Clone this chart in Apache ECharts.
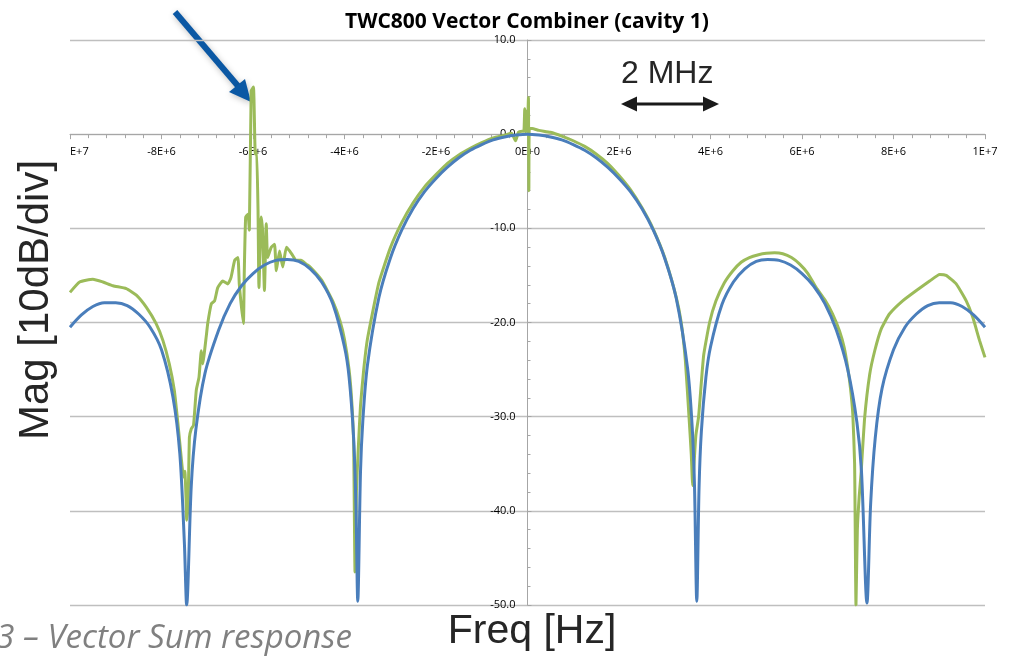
<!DOCTYPE html>
<html>
<head>
<meta charset="utf-8">
<title>TWC800 Vector Combiner (cavity 1)</title>
<script src="https://cdn.jsdelivr.net/npm/echarts@6.0.0/dist/echarts.min.js"></script>
<style>
  html, body { margin: 0; padding: 0; background: #fff; }
  #main { width: 1013px; height: 658px; }
</style>
</head>
<body>
<div id="main"></div>
<script>
// frequency in MHz (axis labels show it as E-notation Hz), magnitude in dB
var xTickLabels = ['E+7', '-8E+6', '-6E+6', '-4E+6', '-2E+6', '0E+0', '2E+6', '4E+6', '6E+6', '8E+6', '1E+7'];

// blue trace (smooth response)
var blueFreq = [
  -10,   -9.75, -9.5,  -9.25, -9,    -8.75, -8.5,  -8.25, -8,    -7.75,
  -7.6,  -7.5,  -7.45, -7.35, -7.25, -7.05, -6.75, -6.5,  -6.25, -6,
  -5.75, -5.5,  -5.25, -5,    -4.75, -4.5,  -4.25, -4,    -3.9,  -3.8,
  -3.75, -3.71, -3.65, -3.6,  -3.5,  -3.25, -3,    -2.75, -2.5,  -2.25,
  -2,    -1.75, -1.5,  -1.25, -1,    -0.75, -0.5,  -0.25, 0,     0.25,
  0.5,   0.75,  1,     1.25,  1.5,   1.75,  2,     2.25,  2.5,   2.75,
  3,     3.25,  3.5,   3.6,   3.65,  3.7,   3.75,  3.8,   3.9,   4,
  4.25,  4.5,   4.75,  5,     5.25,  5.5,   5.75,  6,     6.25,  6.5,
  6.75,  7,     7.2,   7.3,   7.42,  7.5,   7.6,   7.75,  8,     8.25,
  8.5,   8.75,  9,     9.25,  9.5,   9.75,  10];
var blueMag = [
  -20.5, -19.2, -18.3, -17.9, -17.9, -18.2, -19.1, -20.5, -22.9, -27.9,
  -33.9, -43.4, -50.0, -37.4, -31.4, -25.4, -20.8, -18.0, -16.1, -14.8,
  -13.9, -13.4, -13.3, -13.5, -14.3, -15.7, -18.1, -22.6, -25.8, -32.3,
  -39.4, -49.6, -35.8, -30.5, -24.6, -17.4, -13.2, -10.2, -7.9,  -6.1,
  -4.7,  -3.5,  -2.5,  -1.7,  -1.1,  -0.6,  -0.3,  -0.1,  0,     -0.1,
  -0.3,  -0.6,  -1.1,  -1.7,  -2.5,  -3.5,  -4.7,  -6.1,  -7.9,  -10.2,
  -13.2, -17.4, -24.9, -31.1, -37.3, -49.6, -37.5, -31.6, -25.8, -22.6,
  -18.1, -15.7, -14.3, -13.5, -13.3, -13.4, -13.9, -14.8, -16.1, -18.0,
  -20.8, -25.0, -30.6, -35.8, -49.8, -39.3, -32.3, -27.0, -22.9, -20.5,
  -19.1, -18.2, -17.9, -17.9, -18.3, -19.2, -20.5];

// green trace (measured, with spurs at -6 MHz and at the carrier)
var greenFreq = [-10, -9.79, -9.5, -9.28, -9.06, -8.77, -8.55, -8.33, -8.12, -7.97, -7.83, -7.72, -7.64, -7.57, -7.52, -7.49,
  -7.46, -7.45, -7.42, -7.39, -7.35, -7.3, -7.24, -7.18, -7.13, -7.1, -7.02, -6.99, -6.91, -6.84, -6.77, -6.66, -6.55,
  -6.48, -6.4, -6.33, -6.3, -6.26, -6.21, -6.19, -6.16, -6.11, -6.08, -6.04, -5.99, -5.95, -5.92, -5.89, -5.87, -5.82,
  -5.79, -5.75, -5.71, -5.68, -5.6, -5.53, -5.49, -5.42, -5.35, -5.27, -5.2, -5.13, -5.06, -4.95, -4.84, -4.75, -4.5,
  -4.25, -4.1, -4, -3.9, -3.84, -3.8, -3.77, -3.74, -3.7, -3.65, -3.58, -3.5, -3.25, -3, -2.75, -2.5, -2.25, -2, -1.75,
  -1.5, -1.25, -1, -0.75, -0.5, -0.35, -0.26, -0.2, -0.12, -0.08, -0.06, -0.04, -0.02, 0, 0.02, 0.03, 0.04, 0.1, 0.25,
  0.5, 0.75, 1, 1.25, 1.5, 1.75, 2, 2.25, 2.5, 2.75, 3, 3.25, 3.36, 3.45, 3.53, 3.58, 3.61, 3.64, 3.68, 3.74, 3.85,
  3.98, 4.12, 4.3, 4.49, 4.67, 4.85, 5.05, 5.22, 5.4, 5.58, 5.77, 5.95, 6.13, 6.31, 6.5, 6.67, 6.82, 6.92, 7, 7.06,
  7.11, 7.15, 7.18, 7.21, 7.25, 7.29, 7.37, 7.48, 7.59, 7.73, 7.91, 8.2, 8.5, 8.79, 9.01, 9.15, 9.37, 9.59, 9.73, 9.88, 10];
var greenMag = [-16.8, -15.7, -15.4, -15.7, -16.1, -16.4, -17.1, -18.4, -20.1, -21.9, -24.4, -27.2, -30.8, -34.3, -36.4, -35.8,
  -39.2, -41.0, -39.6, -32.2, -31.3, -30.9, -27.2, -25.8, -23.0, -24.4, -21.4, -20.1, -18.0, -17.7, -16.3, -15.6, -15.9,
  -15.2, -13.4, -13.1, -15.9, -18.0, -20.1, -14.5, -8.8, -8.5, -10.2, 4.6, 5.0, -2.1, -1.8, -8.1, -16.3, -8.8,
  -10.2, -16.6, -9.5, -13.1, -12.0, -11.7, -14.5, -12.4, -14.1, -12.0, -12.4, -12.9, -13.4, -13.4, -13.8, -14.1, -15.5,
  -17.8, -19.8, -21.8, -25.0, -28.5, -33.0, -46.5, -38.0, -33.5, -28.8, -25.0, -21.8, -15.8, -12.1, -9.4, -7.3, -5.6, -4.3, -3.1,
  -2.2, -1.5, -0.9, -0.4, -0.1, 0.1, -0.7, 0.2, 0.3, 0.3, 2.7, 0.2, 2.4, 0.4, 3.9, -6.0, 0.6, 0.6, 0.4,
  0.2, -0.2, -0.7, -1.3, -2.1, -3.1, -4.4, -5.9, -7.8, -10.1, -13.1, -17.3, -20.0, -24.0, -30.0, -34.0, -37.3, -35.0, -32.0, -30.0, -23.5,
  -20.0, -17.7, -15.8, -14.5, -13.6, -13.1, -12.8, -12.65, -12.6, -12.7, -13.1, -13.8, -14.8, -16.3, -17.6, -19.1, -20.9, -22.6, -24.8, -27.0,
  -29.7, -35.0, -50.0, -42.0, -38.5, -36.1, -30.1, -25.5, -23.0, -20.7, -19.1, -17.7, -16.6, -15.6, -14.9, -15.0, -15.9, -17.7, -19.4, -21.9, -23.7];

function pairs(xs, ys) {
  var out = [];
  for (var i = 0; i < xs.length; i++) out.push([xs[i], ys[i]]);
  return out;
}

var chart = echarts.init(document.getElementById('main'));

// grid: x -10..10 over 70..985, y 10..-50 over 40..605
// axes sit on the zero lines, moved there with offset
var gridLeft = 70, gridTop = 40, gridW = 915, gridH = 565;
var xZeroOffset = -(gridH * 50 / 60);
var yZeroOffset = -(gridW / 2);

var option = {
  animation: false,
  backgroundColor: '#ffffff',
  title: {
    text: 'TWC800 Vector Combiner (cavity 1)',
    left: 340,
    top: 7,
    textStyle: { fontFamily: 'Open Sans', fontWeight: 'bold', fontSize: 21, color: '#000' }
  },
  grid: { left: gridLeft, top: gridTop, width: gridW, height: gridH },
  xAxis: {
    type: 'value',
    min: -10,
    max: 10,
    interval: 2,
    offset: xZeroOffset,
    axisLine: { onZero: false, lineStyle: { color: '#a6a6a6', width: 1 } },
    axisTick: { show: true, length: 5, lineStyle: { color: '#a6a6a6' } },
    minorTick: { show: true, splitNumber: 5, length: 4, lineStyle: { color: '#a6a6a6' } },
    splitLine: { show: false },
    axisLabel: {
      margin: 12,
      fontFamily: 'Open Sans',
      fontSize: 11,
      color: '#000',
      alignMinLabel: 'left',
      formatter: function (v) { return xTickLabels[Math.round((v + 10) / 2)]; }
    }
  },
  yAxis: {
    type: 'value',
    min: -50,
    max: 10,
    interval: 10,
    offset: yZeroOffset,
    axisLine: { show: true, onZero: false, lineStyle: { color: '#a6a6a6', width: 1 } },
    axisTick: { show: true, inside: true, length: 4, lineStyle: { color: '#a6a6a6' } },
    minorTick: { show: true, splitNumber: 5, length: 3, lineStyle: { color: '#a6a6a6' } },
    splitLine: { show: true, lineStyle: { color: '#bfbfbf', width: 1.3 } },
    axisLabel: {
      margin: 12,
      fontFamily: 'Open Sans',
      fontSize: 11,
      color: '#000',
      formatter: function (v) { return v.toFixed(1); }
    }
  },
  series: [
    {
      name: 'green',
      type: 'line',
      data: pairs(greenFreq, greenMag),
      showSymbol: false,
      smooth: 0.15,
      lineStyle: { color: '#9bbb59', width: 3 },
      itemStyle: { color: '#9bbb59' },
      z: 2
    },
    {
      name: 'blue',
      type: 'line',
      data: pairs(blueFreq, blueMag),
      showSymbol: false,
      smooth: 0.3,
      lineStyle: { color: '#4a7ebb', width: 3 },
      itemStyle: { color: '#4a7ebb' },
      z: 3
    }
  ],
  graphic: [
    // axis titles, placed like the slide overlay
    {
      type: 'text', x: 36, y: 300, rotation: Math.PI / 2,
      style: { text: 'Mag [10dB/div]', fontFamily: 'Liberation Sans', fontSize: 42, fill: '#262626', align: 'center', verticalAlign: 'middle' }
    },
    {
      type: 'text', x: 532, y: 632,
      style: { text: 'Freq [Hz]', fontFamily: 'Liberation Sans', fontSize: 41, fill: '#262626', align: 'center', verticalAlign: 'middle' }
    },
    // caption, cut at the left edge
    {
      type: 'text', x: 352, y: 639,
      style: { text: '3 – Vector Sum response', fontFamily: 'Open Sans', fontStyle: 'italic', fontSize: 33, fill: '#808080', align: 'right', verticalAlign: 'middle' }
    },
    // 2 MHz marker
    {
      type: 'text', x: 621, y: 74,
      style: { text: '2 MHz', fontFamily: 'Liberation Sans', fontSize: 32, fill: '#262626', align: 'left', verticalAlign: 'middle' }
    },
    {
      type: 'line', shape: { x1: 635, y1: 104, x2: 705, y2: 104 },
      style: { stroke: '#1a1a1a', lineWidth: 3 }
    },
    {
      type: 'polygon', shape: { points: [[621, 104], [637, 96.5], [637, 111.5]] },
      style: { fill: '#1a1a1a' }
    },
    {
      type: 'polygon', shape: { points: [[719, 104], [703, 96.5], [703, 111.5]] },
      style: { fill: '#1a1a1a' }
    },
    // blue pointer arrow at the -6 MHz spur
    {
      type: 'line', shape: { x1: 175, y1: 12, x2: 238, y2: 86 },
      style: { stroke: '#0b58a4', lineWidth: 6, shadowBlur: 6, shadowColor: 'rgba(0,0,0,0.25)', shadowOffsetX: 1, shadowOffsetY: 2 }
    },
    {
      type: 'polygon', shape: { points: [[251, 102], [229, 92], [245, 79]] },
      style: { fill: '#0b58a4', shadowBlur: 6, shadowColor: 'rgba(0,0,0,0.25)', shadowOffsetX: 1, shadowOffsetY: 2 }
    }
  ]
};

chart.setOption(option);
</script>
</body>
</html>
